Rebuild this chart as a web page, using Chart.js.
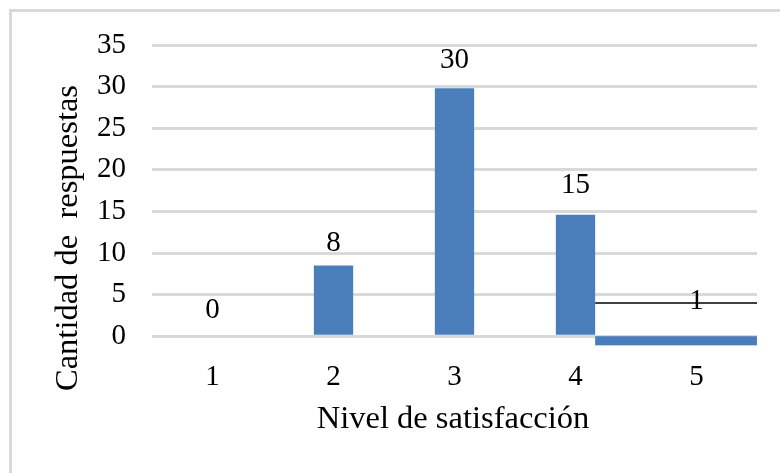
<!DOCTYPE html>
<html>
<head>
<meta charset="utf-8">
<script src="https://cdn.jsdelivr.net/npm/chart.js@4.4.0/dist/chart.umd.min.js"></script>
<style>
  html, body { margin: 0; padding: 0; background: #fff; }
  #wrap { position: relative; width: 780px; height: 473px; }
</style>
</head>
<body>
<div id="wrap"><canvas id="chart" width="780" height="473"></canvas></div>
<script>
/* ── Data ── */
const categories  = ['1', '2', '3', '4', '5'];
const barValues   = [0, 8.5, 29.8, 14.6, null];
const labelValues = [0, 8, 30, 15, 1];
const yMax        = 35;
const yStep       = 5;
const lastBand    = [-1.1, 0];   // flat bar drawn under level 5
const lastLine    = 4;           // black line over level 5

const xTitle = 'Nivel de satisfacción';
const yTitle = 'Cantidad de  respuestas';

const SERIF = "'Liberation Serif', 'Times New Roman', serif";
const BLUE  = '#4a7ebb';
const GRID  = '#d9d9d9';

/* ── Plugin: frame, titles, data labels, level-5 marks ── */
const extras = {
  id: 'extras',
  beforeDraw(chart) {
    const ctx = chart.ctx;
    ctx.save();
    ctx.strokeStyle = GRID;
    ctx.lineWidth = 3;
    ctx.beginPath();
    ctx.moveTo(10.5, 473);
    ctx.lineTo(10.5, 10.5);
    ctx.lineTo(780, 10.5);
    ctx.stroke();
    ctx.restore();
  },
  afterDatasetsDraw(chart) {
    const ctx = chart.ctx;
    const x = chart.scales.x, y = chart.scales.y;
    const area = chart.chartArea;
    const bar4 = chart.getDatasetMeta(0).data[3];
    const left = bar4.x + bar4.width / 2;

    ctx.save();
    // flat bar for level 5
    const top = y.getPixelForValue(lastBand[1]);
    const bot = y.getPixelForValue(lastBand[0]);
    ctx.fillStyle = BLUE;
    ctx.fillRect(left, top, area.right - left, bot - top);

    // black line
    ctx.strokeStyle = '#000';
    ctx.lineWidth = 1.5;
    ctx.beginPath();
    ctx.moveTo(left, y.getPixelForValue(lastLine));
    ctx.lineTo(area.right, y.getPixelForValue(lastLine));
    ctx.stroke();

    // data labels
    ctx.fillStyle = '#000';
    ctx.font = '29px ' + SERIF;
    ctx.textAlign = 'center';
    ctx.textBaseline = 'middle';
    labelValues.forEach((v, i) => {
      ctx.fillText(String(v), x.getPixelForValue(i), y.getPixelForValue(v) - 26);
    });

    // axis titles
    ctx.font = '32.5px ' + SERIF;
    ctx.fillText(xTitle, 453, 419);
    ctx.translate(68, 238);
    ctx.rotate(-Math.PI / 2);
    ctx.fillText(yTitle, 0, 0);
    ctx.restore();
  }
};

new Chart(document.getElementById('chart'), {
  type: 'bar',
  data: {
    labels: categories,
    datasets: [{
      data:               barValues,
      backgroundColor:    BLUE,
      borderWidth:        0,
      barPercentage:      0.325,
      categoryPercentage: 1,
    }]
  },
  options: {
    responsive: false,
    animation:  false,
    layout: { padding: { left: 71, right: 23, top: 45, bottom: 62 } },
    plugins: {
      legend:  { display: false },
      tooltip: { enabled: false },
    },
    scales: {
      x: {
        grid:   { display: false },
        border: { display: false },
        ticks:  { color: '#000', padding: 16, font: { family: SERIF, size: 29 } },
      },
      y: {
        min: 0,
        max: yMax,
        grid:   { color: GRID, lineWidth: 3, drawTicks: false },
        border: { display: false },
        ticks:  { stepSize: yStep, color: '#000', padding: 26, font: { family: SERIF, size: 29 } },
      }
    }
  },
  plugins: [extras],
});
</script>
</body>
</html>
